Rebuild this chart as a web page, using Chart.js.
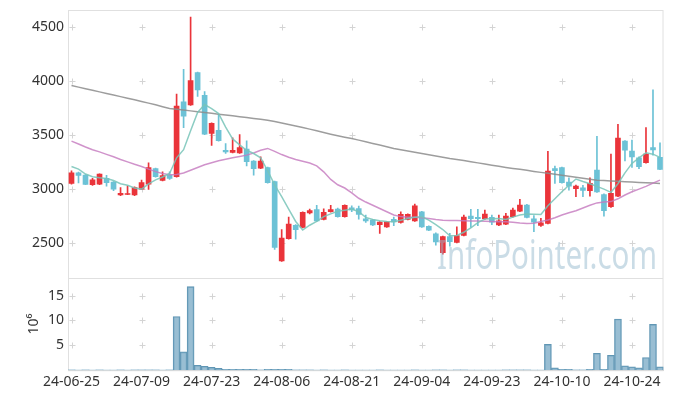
<!DOCTYPE html>
<html>
<head>
<meta charset="utf-8">
<script src="https://cdn.jsdelivr.net/npm/chart.js@4"></script>
<style>
    body { margin: 0; background: #fff; }
    #wrap { position: relative; width: 673px; height: 396px; }
    #grafico { position: absolute; left: 0; top: 0; }
    #volume { position: absolute; left: 0; top: 278px; }
</style>
</head>
<body>
<div id="wrap">
    <canvas id="grafico" width="673" height="278"></canvas>
    <canvas id="volume" width="673" height="118"></canvas>
</div>
<script>
const datas = ['24-06-25','24-06-26','24-06-27','24-06-28','24-07-01','24-07-02','24-07-03','24-07-04','24-07-05','24-07-08',
    '24-07-09','24-07-10','24-07-11','24-07-12','24-07-15','24-07-16','24-07-17','24-07-18','24-07-19','24-07-22',
    '24-07-23','24-07-24','24-07-25','24-07-26','24-07-29','24-07-30','24-07-31','24-08-01','24-08-02','24-08-05',
    '24-08-06','24-08-07','24-08-08','24-08-09','24-08-12','24-08-13','24-08-14','24-08-16','24-08-19','24-08-20',
    '24-08-21','24-08-22','24-08-23','24-08-26','24-08-27','24-08-28','24-08-29','24-08-30','24-09-02','24-09-03',
    '24-09-04','24-09-05','24-09-06','24-09-09','24-09-10','24-09-11','24-09-12','24-09-13','24-09-19','24-09-20',
    '24-09-23','24-09-24','24-09-25','24-09-26','24-09-27','24-09-30','24-10-02','24-10-04','24-10-07','24-10-08',
    '24-10-10','24-10-11','24-10-14','24-10-15','24-10-16','24-10-17','24-10-18','24-10-21','24-10-22','24-10-23',
    '24-10-24','24-10-25','24-10-28','24-10-29','24-10-30'];

const abertura = [3053,3150,3130,3040,3045,3100,3065,2945,2950,2945,
    3000,3045,3190,3080,3130,3115,3810,3780,4080,3870,
    3515,3545,3360,3340,3335,3370,3260,3195,3200,3070,
    2335,2540,2665,2645,2780,2810,2720,2790,2815,2745,
    2827,2820,2725,2713,2670,2650,2720,2690,2720,2705,
    2790,2655,2585,2410,2560,2505,2570,2750,2738,2725,
    2738,2667,2676,2745,2796,2852,2725,2664,2682,3190,
    3200,3065,3003,3012,2985,3176,2950,2836,2935,3444,
    3352,3290,3244,3384,3294];

const maxima = [3170,3158,3135,3100,3142,3127,3070,3015,3030,3020,
    3083,3244,3195,3160,3160,3880,4110,4595,4085,3905,
    3615,3690,3423,3475,3505,3447,3265,3300,3205,3075,
    2625,2740,2670,2790,2815,2850,2818,2850,2825,2855,
    2845,2843,2760,2718,2700,2700,2740,2790,2770,2861,
    2795,2660,2595,2565,2590,2651,2760,2812,2812,2805,
    2760,2760,2775,2824,2905,2858,2755,2728,3350,3213,
    3205,3105,3037,3035,3105,3490,2955,3324,3600,3450,
    3454,3300,3570,3920,3430];

const minima = [3045,3058,3040,3035,3040,3028,2985,2940,2948,2940,
    2995,2997,3110,3075,3090,3110,3570,3775,3860,3505,
    3405,3445,3330,3335,3330,3215,3130,3190,3055,2440,
    2330,2535,2535,2640,2770,2700,2715,2785,2740,2740,
    2790,2722,2690,2660,2590,2645,2660,2685,2715,2700,
    2645,2615,2480,2398,2470,2500,2565,2645,2660,2720,
    2670,2660,2670,2740,2790,2732,2605,2655,2678,3053,
    3055,2990,2929,2930,2935,2970,2750,2830,2930,3262,
    3201,3190,3240,3315,3180];

const fechamento = [3151,3126,3044,3085,3140,3060,3000,2960,2958,3015,
    3060,3200,3115,3125,3100,3770,3676,4005,3920,3510,
    3610,3450,3345,3360,3385,3255,3190,3260,3060,2460,
    2545,2675,2625,2785,2800,2705,2785,2810,2745,2850,
    2806,2765,2706,2667,2695,2697,2695,2765,2765,2845,
    2650,2620,2510,2560,2512,2570,2740,2725,2725,2768,
    2694,2706,2750,2805,2852,2738,2694,2688,3167,3170,
    3060,3028,3028,2988,3053,2975,2800,2960,3472,3361,
    3299,3207,3324,3364,3183];

// volume em milhoes
const volume = [0.05,0.04,0.06,0.03,0.05,0.04,0.03,0.05,0.04,0.06,
    0.05,0.08,0.05,0.04,0.06,10.8,3.7,16.8,1.0,0.8,
    0.6,0.4,0.2,0.2,0.2,0.2,0.2,0.08,0.2,0.2,
    0.2,0.2,0.08,0.06,0.05,0.04,0.05,0.03,0.04,0.05,
    0.04,0.03,0.04,0.03,0.05,0.04,0.03,0.04,0.03,0.05,
    0.04,0.03,0.05,0.06,0.04,0.05,0.06,0.04,0.03,0.04,
    0.03,0.04,0.05,0.06,0.07,0.05,0.04,0.03,5.2,0.48,
    0.2,0.2,0.08,0.07,0.2,3.4,0.2,3.0,10.3,0.9,
    0.7,0.48,2.55,9.2,0.7];

const media5 = [3210,3185,3140,3115,3105,3099,3080,3050,3035,3010,
    3000,3048,3085,3112,3145,3290,3365,3540,3710,3784,
    3745,3700,3575,3465,3410,3360,3330,3290,3170,3040,
    2930,2815,2700,2620,2665,2700,2745,2770,2795,2805,
    2815,2790,2738,2718,2706,2700,2697,2712,2728,2740,
    2744,2712,2670,2625,2568,2570,2600,2640,2690,2722,
    2725,2728,2718,2740,2760,2770,2768,2765,2845,2910,
    2975,3035,3093,3070,3050,3025,3000,2970,3050,3150,
    3238,3290,3336,3324,3294];

const media20 = [3445,3418,3390,3365,3345,3322,3300,3275,3252,3230,
    3210,3185,3162,3145,3133,3135,3150,3175,3200,3225,
    3245,3262,3277,3290,3303,3315,3335,3360,3377,3350,
    3320,3295,3275,3258,3242,3215,3160,3090,3040,3010,
    2965,2915,2880,2850,2820,2790,2760,2745,2740,2738,
    2735,2728,2718,2712,2710,2708,2706,2705,2704,2702,
    2700,2698,2697,2692,2686,2682,2684,2700,2713,2735,
    2760,2780,2800,2825,2850,2872,2880,2884,2910,2945,
    2975,3000,3025,3055,3083];

const media60 = [3960,3945,3930,3916,3901,3886,3872,3857,3842,3828,
    3812,3797,3781,3764,3747,3740,3733,3725,3718,3710,
    3702,3694,3687,3679,3671,3663,3655,3647,3639,3626,
    3612,3598,3585,3571,3556,3540,3524,3509,3495,3481,
    3468,3454,3439,3423,3408,3392,3377,3365,3354,3342,
    3330,3319,3307,3296,3284,3274,3264,3253,3243,3232,
    3222,3211,3201,3192,3183,3174,3164,3155,3146,3137,
    3128,3119,3110,3101,3092,3083,3079,3076,3072,3069,
    3066,3062,3059,3056,3053];

const escalaPreco = [2500, 3000, 3500, 4000, 4500];
const escalaVolume = [5, 10, 15];
const rotulosX = ['24-06-25','24-07-09','24-07-23','24-08-06','24-08-21','24-09-04','24-09-23','24-10-10','24-10-24'];

const VERMELHO = 'rgb(234, 52, 58)';
const AZUL = 'rgb(108, 194, 214)';

Chart.defaults.font.family = "'Noto Sans', sans-serif";
Chart.defaults.font.size = 14;
Chart.defaults.color = '#333';

function corCandle(c) {
    const i = c.dataIndex;
    return fechamento[i] >= abertura[i] ? VERMELHO : AZUL;
}

// eixo y com largura fixa e sem folga extra em cima/embaixo
function eixoFixo(s) {
    s.width = 68;
    s.paddingTop = 0;
    s.paddingBottom = 0;
}

// moldura cinza e as cruzinhas nas marcacoes
const moldura = {
    id: 'moldura',
    beforeDatasetsDraw(chart) {
        const { ctx, chartArea: a, scales } = chart;
        ctx.save();
        ctx.strokeStyle = '#e0e0e0';
        ctx.lineWidth = 1;
        ctx.strokeRect(a.left + 0.5, a.top + 0.5, a.right - a.left - 1, a.bottom - a.top);
        ctx.strokeStyle = '#d4d4d4';
        scales.y.ticks.forEach(t => {
            const py = Math.round(scales.y.getPixelForValue(t.value)) + 0.5;
            datas.forEach((d, i) => {
                if (!rotulosX.includes(d)) return;
                const px = Math.round(scales.x.getPixelForValue(i)) + 0.5;
                ctx.beginPath();
                ctx.moveTo(px - 3, py); ctx.lineTo(px + 3, py);
                ctx.moveTo(px, py - 3); ctx.lineTo(px, py + 3);
                ctx.stroke();
            });
        });
        ctx.restore();
    }
};

const marcaDagua = {
    id: 'marcaDagua',
    afterDatasetsDraw(chart) {
        const ctx = chart.ctx;
        ctx.save();
        ctx.font = "40px 'Noto Sans'";
        const largura = ctx.measureText('InfoPointer.com').width;
        ctx.translate(437, 269);
        ctx.scale(220 / largura, 1);
        ctx.fillStyle = 'rgba(150, 185, 205, 0.5)';
        ctx.fillText('InfoPointer.com', 0, 0);
        ctx.restore();
    }
};

function gerarGrafico() {
    new Chart(document.getElementById('grafico'), {
        data: {
            labels: datas,
            datasets: [
                { type: 'line', data: media5, borderColor: 'rgba(120, 196, 184, 0.85)', borderWidth: 1.5, pointRadius: 0, order: 0 },
                { type: 'line', data: media20, borderColor: 'rgba(196, 120, 190, 0.8)', borderWidth: 1.5, pointRadius: 0, order: 0 },
                { type: 'line', data: media60, borderColor: 'rgba(140, 140, 140, 0.85)', borderWidth: 1.5, pointRadius: 0, order: 0 },
                {
                    type: 'bar',
                    data: abertura.map((o, i) => [Math.min(o, fechamento[i]), Math.max(o, fechamento[i])]),
                    backgroundColor: corCandle,
                    barThickness: 5,
                    grouped: false,
                    order: 1
                },
                {
                    type: 'bar',
                    data: minima.map((l, i) => [l, maxima[i]]),
                    backgroundColor: corCandle,
                    barThickness: 1,
                    grouped: false,
                    order: 2
                }
            ]
        },
        options: {
            responsive: false,
            animation: false,
            layout: { padding: { top: 10, right: 9.5, left: 0, bottom: 0 } },
            plugins: { legend: { display: false }, tooltip: { enabled: false } },
            scales: {
                x: { display: false, offset: true },
                y: {
                    min: 2176,
                    max: 4660,
                    afterFit: eixoFixo,
                    afterBuildTicks: s => { s.ticks = escalaPreco.map(v => ({ value: v })); },
                    grid: { display: false, drawTicks: false },
                    border: { display: false },
                    ticks: { padding: 4, callback: v => String(v) }
                }
            }
        },
        plugins: [moldura, marcaDagua]
    });
}

function gerarVolume() {
    new Chart(document.getElementById('volume'), {
        type: 'bar',
        data: {
            labels: datas,
            datasets: [{
                data: volume,
                backgroundColor: 'rgba(124, 172, 198, 0.78)',
                borderColor: 'rgb(96, 150, 180)',
                borderWidth: c => (volume[c.dataIndex] < 0.15 ? 0 : 1),
                barPercentage: 1,
                categoryPercentage: 1
            }]
        },
        options: {
            responsive: false,
            animation: false,
            layout: { padding: { top: 0, right: 9.5, left: 0, bottom: 3 } },
            plugins: { legend: { display: false }, tooltip: { enabled: false } },
            scales: {
                x: {
                    offset: true,
                    grid: { display: false, drawTicks: false },
                    border: { color: '#d0d0d0' },
                    afterBuildTicks: s => { s.ticks = s.ticks.filter(t => rotulosX.includes(datas[t.value])); },
                    ticks: { autoSkip: false, maxRotation: 0, padding: 3 }
                },
                y: {
                    min: 0,
                    max: 18.54,
                    afterFit: eixoFixo,
                    afterBuildTicks: s => { s.ticks = escalaVolume.map(v => ({ value: v })); },
                    grid: { display: false, drawTicks: false },
                    border: { display: false },
                    ticks: { padding: 4 },
                    title: { display: true, text: '10⁶', padding: { top: 26, bottom: 0 } }
                }
            }
        },
        plugins: [moldura]
    });
}

gerarGrafico();
gerarVolume();
</script>
</body>
</html>
